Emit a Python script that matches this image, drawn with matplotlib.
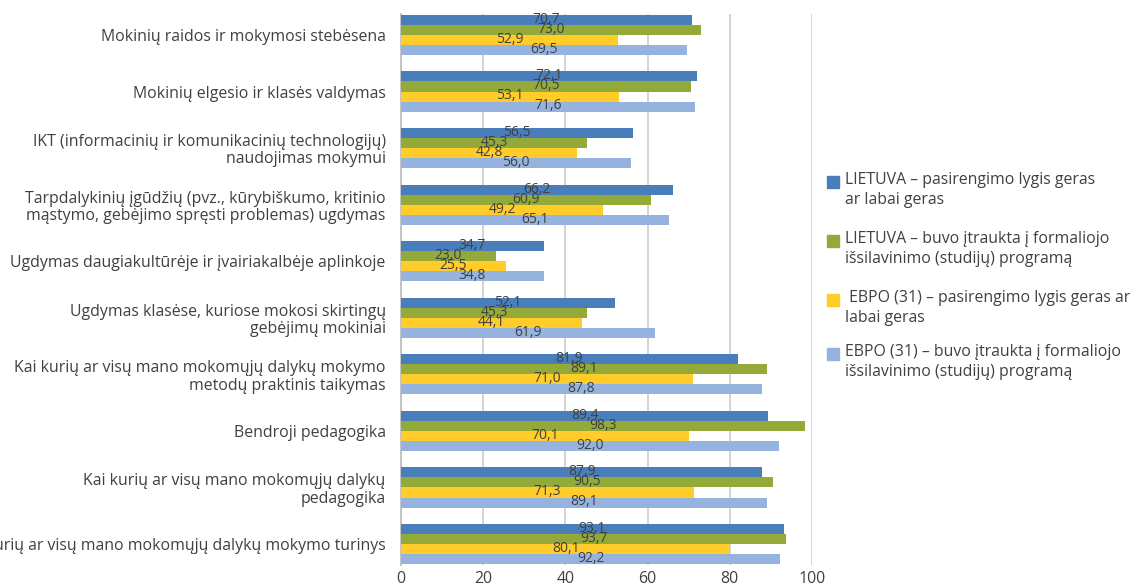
import numpy as np
import matplotlib
matplotlib.use("Agg")
import matplotlib.pyplot as plt
from matplotlib.patches import Rectangle

plt.rcParams['font.family'] = ['Open Sans', 'DejaVu Sans']

# ---------------------------
# Data
# ---------------------------
categories = [
    "Mokinių raidos ir mokymosi stebėsena",
    "Mokinių elgesio ir klasės valdymas",
    "IKT (informacinių ir komunikacinių technologijų)\nnaudojimas mokymui",
    "Tarpdalykinių įgūdžių (pvz., kūrybiškumo, kritinio\nmąstymo, gebėjimo spręsti problemas) ugdymas",
    "Ugdymas daugiakultūrėje ir įvairiakalbėje aplinkoje",
    "Ugdymas klasėse, kuriose mokosi skirtingų\ngebėjimų mokiniai",
    "Kai kurių ar visų mano mokomųjų dalykų mokymo\nmetodų praktinis taikymas",
    "Bendroji pedagogika",
    "Kai kurių ar visų mano mokomųjų dalykų\npedagogika",
    "Kai kurių ar visų mano mokomųjų dalykų mokymo turinys",
]

lt_ready = [70.7, 72.1, 56.5, 66.2, 34.7, 52.1, 81.9, 89.4, 87.9, 93.1]
lt_included = [73.0, 70.5, 45.3, 60.9, 23.0, 45.3, 89.1, 98.3, 90.5, 93.7]
oecd_ready = [52.9, 53.1, 42.8, 49.2, 25.5, 44.1, 71.0, 70.1, 71.3, 80.1]
oecd_included = [69.5, 71.6, 56.0, 65.1, 34.8, 61.9, 87.8, 92.0, 89.1, 92.2]

series_labels = [
    "LIETUVA – pasirengimo lygis geras\nar labai geras",
    "LIETUVA – buvo įtraukta į formaliojo\nišsilavinimo (studijų) programą",
    " EBPO (31) – pasirengimo lygis geras ar\nlabai geras",
    "EBPO (31) – buvo įtraukta į formaliojo\nišsilavinimo (studijų) programą",
]
colors = ["#4A7EBB", "#93A938", "#FFCC29", "#95B3DE"]
text_color = "#404040"

# ---------------------------
# Chart
# ---------------------------
fig = plt.figure(figsize=(11.33, 5.83), dpi=100)
ax = fig.add_axes([401 / 1133, 1 - 565 / 583, (812 - 401) / 1133, (565 - 14) / 583])

y = np.arange(len(categories))
bar_h = 0.177
all_series = [lt_ready, lt_included, oecd_ready, oecd_included]

for i, (vals, col) in enumerate(zip(all_series, colors)):
    offs = (i - 1.5) * bar_h
    bars = ax.barh(y + offs, vals, height=bar_h, color=col, zorder=3)
    for b, v in zip(bars, vals):
        ax.text(b.get_width() / 2, b.get_y() + b.get_height() / 2 - 0.01,
                f"{v:.1f}".replace(".", ","), ha="center", va="center",
                fontsize=10, color=text_color, zorder=4)

ax.set_xlim(0, 100)
ax.set_ylim(len(categories) - 1 + 0.37, -0.37)
ax.set_xticks([0, 20, 40, 60, 80, 100])
ax.set_yticks(y)
ax.set_yticklabels(categories, fontsize=11.4, color=text_color, linespacing=1.1)
ax.tick_params(axis="y", length=0, pad=11)
ax.tick_params(axis="x", length=0, pad=4, labelsize=11.4, labelcolor=text_color)
ax.grid(axis="x", color="#D0D0D0", linewidth=1.3, zorder=0)
for s in ["top", "right", "bottom"]:
    ax.spines[s].set_visible(False)
ax.spines["left"].set_color("#BFBFBF")
ax.spines["left"].set_linewidth(1.3)

# legend drawn by hand to keep the square on the first line
leg_y = [182, 241, 300, 354]
for lab, col, ly in zip(series_labels, colors, leg_y):
    fig.patches.append(Rectangle((827 / 1133, 1 - (ly + 6) / 583), 12 / 1133, 12 / 583,
                                 transform=fig.transFigure, color=col))
    fig.text(845 / 1133, 1 - (ly - 10) / 583, lab, ha="left", va="top",
             fontsize=11.4, color=text_color, linespacing=1.33)

fig.savefig("out.png", dpi=100)
